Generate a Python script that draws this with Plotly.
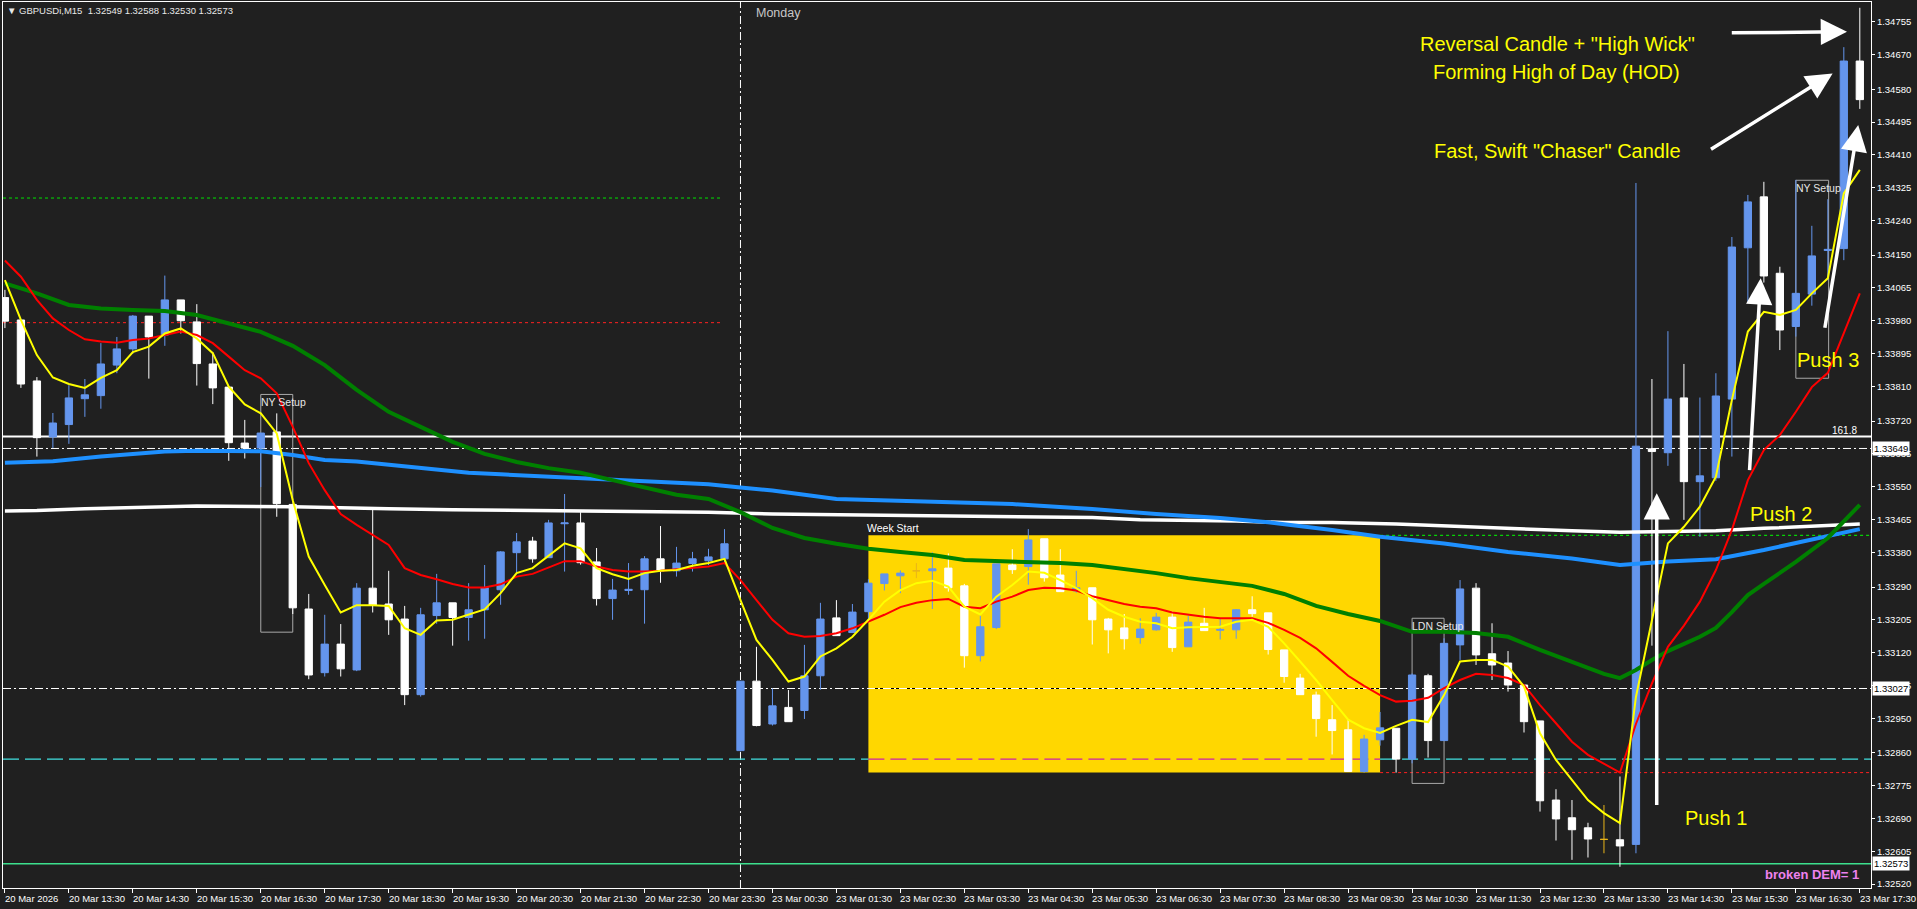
import plotly.graph_objects as go

# ---------------- data (GBPUSDi, M15) ----------------
bar_index = list(range(117))

opens = [1.34040, 1.33982, 1.33824, 1.33679, 1.33711, 1.33778, 1.33786, 1.33865, 1.33907, 1.33992,
         1.33943, 1.34034, 1.33977, 1.33868, 1.33808, 1.33663, 1.33650, 1.33692, 1.33504, 1.33233,
         1.33068, 1.33142, 1.33075, 1.33287, 1.33246, 1.33207, 1.33011, 1.33216, 1.33249, 1.33211,
         1.33231, 1.33283, 1.33379, 1.33409, 1.33366, 1.33454, 1.33456, 1.33355, 1.33260, 1.33281,
         1.33283, 1.33363, 1.33332, 1.33351, 1.33358, 1.33363, 1.32866, 1.33046, 1.32935, 1.32978,
         1.32970, 1.33060, 1.33210, 1.33172, 1.33226, 1.33299, 1.33319, 1.33332, 1.33332, 1.33339,
         1.33293, 1.33112, 1.33185, 1.33347, 1.33343, 1.33415, 1.33321, 1.33280, 1.33288, 1.33207,
         1.33184, 1.33159, 1.33179, 1.33212, 1.33135, 1.33196, 1.33178, 1.33179, 1.33231, 1.33223,
         1.33127, 1.33054, 1.33010, 1.32946, 1.32920, 1.32812, 1.32894, 1.32924, 1.32844, 1.33060,
         1.32892, 1.33140, 1.33287, 1.33117, 1.33093, 1.33036, 1.32943, 1.32738, 1.32692, 1.32666,
         1.32636, 1.32635, 1.32623, 1.33648, 1.33638, 1.33780, 1.33563, 1.33573, 1.33777, 1.34169,
         1.34301, 1.34103, 1.33965, 1.34049, 1.34162, 1.34167, 1.34653]
highs = [1.34060, 1.33982, 1.33834, 1.33741, 1.33813, 1.33829, 1.33922, 1.33938, 1.33995, 1.33992,
         1.34097, 1.34034, 1.34023, 1.33898, 1.33808, 1.33723, 1.33689, 1.33740, 1.33504, 1.33272,
         1.33218, 1.33194, 1.33300, 1.33491, 1.33332, 1.33241, 1.33236, 1.33324, 1.33249, 1.33300,
         1.33347, 1.33383, 1.33430, 1.33420, 1.33464, 1.33531, 1.33484, 1.33391, 1.33311, 1.33352,
         1.33370, 1.33448, 1.33394, 1.33381, 1.33389, 1.33440, 1.33046, 1.33135, 1.33027, 1.33023,
         1.33140, 1.33249, 1.33256, 1.33246, 1.33310, 1.33324, 1.33333, 1.33352, 1.33380, 1.33377,
         1.33298, 1.33216, 1.33350, 1.33388, 1.33440, 1.33415, 1.33388, 1.33332, 1.33288, 1.33210,
         1.33220, 1.33209, 1.33223, 1.33226, 1.33215, 1.33236, 1.33207, 1.33233, 1.33266, 1.33223,
         1.33127, 1.33065, 1.33019, 1.32984, 1.32946, 1.32907, 1.32966, 1.32924, 1.33066, 1.33065,
         1.33157, 1.33308, 1.33300, 1.33196, 1.33124, 1.33036, 1.32943, 1.32766, 1.32738, 1.32679,
         1.32725, 1.32799, 1.34337, 1.33829, 1.33953, 1.33868, 1.33781, 1.33844, 1.34197, 1.34306,
         1.34340, 1.34120, 1.34345, 1.34226, 1.34295, 1.34689, 1.34791]
lows = [1.33961, 1.33806, 1.33628, 1.33650, 1.33661, 1.33731, 1.33752, 1.33844, 1.33894, 1.33830,
        1.33915, 1.33947, 1.33812, 1.33764, 1.33617, 1.33623, 1.33549, 1.33472, 1.33220, 1.33051,
        1.33058, 1.33058, 1.33072, 1.33224, 1.33166, 1.32984, 1.33006, 1.33195, 1.33138, 1.33151,
        1.33156, 1.33244, 1.33327, 1.33353, 1.33366, 1.33330, 1.33348, 1.33242, 1.33205, 1.33270,
        1.33195, 1.33301, 1.33317, 1.33330, 1.33347, 1.33352, 1.32864, 1.32929, 1.32931, 1.32941,
        1.32948, 1.33024, 1.33164, 1.33172, 1.33205, 1.33281, 1.33274, 1.33313, 1.33233, 1.33278,
        1.33081, 1.33097, 1.33181, 1.33324, 1.33296, 1.33304, 1.33278, 1.33275, 1.33141, 1.33118,
        1.33128, 1.33143, 1.33177, 1.33122, 1.33135, 1.33177, 1.33154, 1.33156, 1.33213, 1.33115,
        1.33042, 1.33011, 1.32902, 1.32856, 1.32812, 1.32809, 1.32879, 1.32809, 1.32833, 1.32848,
        1.32892, 1.33101, 1.33088, 1.33049, 1.33019, 1.32913, 1.32708, 1.32633, 1.32583, 1.32589,
        1.32600, 1.32565, 1.32600, 1.33138, 1.33604, 1.33464, 1.33420, 1.33565, 1.33628, 1.34029,
        1.34079, 1.33904, 1.33939, 1.34019, 1.34085, 1.34137, 1.34529]
closes = [1.33979, 1.33816, 1.33677, 1.33715, 1.33780, 1.33788, 1.33868, 1.33907, 1.33992, 1.33938,
          1.34034, 1.33980, 1.33869, 1.33806, 1.33664, 1.33650, 1.33689, 1.33506, 1.33236, 1.33062,
          1.33142, 1.33078, 1.33287, 1.33243, 1.33205, 1.33011, 1.33218, 1.33249, 1.33211, 1.33231,
          1.33288, 1.33381, 1.33407, 1.33363, 1.33456, 1.33456, 1.33353, 1.33260, 1.33282, 1.33284,
          1.33363, 1.33332, 1.33352, 1.33363, 1.33368, 1.33402, 1.33046, 1.32931, 1.32982, 1.32941,
          1.33060, 1.33207, 1.33164, 1.33225, 1.33300, 1.33324, 1.33326, 1.33332, 1.33337, 1.33288,
          1.33112, 1.33187, 1.33350, 1.33335, 1.33412, 1.33314, 1.33278, 1.33288, 1.33205, 1.33179,
          1.33156, 1.33181, 1.33212, 1.33133, 1.33199, 1.33177, 1.33180, 1.33231, 1.33221, 1.33128,
          1.33058, 1.33011, 1.32949, 1.32918, 1.32812, 1.32896, 1.32925, 1.32844, 1.33062, 1.32892,
          1.33144, 1.33285, 1.33114, 1.33088, 1.33036, 1.32941, 1.32736, 1.32689, 1.32661, 1.32637,
          1.32636, 1.32619, 1.33655, 1.33641, 1.33777, 1.33563, 1.33578, 1.33785, 1.34171, 1.34288,
          1.34096, 1.33956, 1.34051, 1.34148, 1.34165, 1.34653, 1.34553]

ma_yellow = [1.34085, 1.33982, 1.33891, 1.33833, 1.33816, 1.33806, 1.33832, 1.33852, 1.33899, 1.33913,
             1.33947, 1.33960, 1.33934, 1.33896, 1.33809, 1.33763, 1.33740, 1.33688, 1.33515, 1.33369,
             1.33295, 1.33224, 1.33243, 1.33243, 1.33241, 1.33183, 1.33166, 1.33203, 1.33205, 1.33218,
             1.33232, 1.33274, 1.33326, 1.33339, 1.33371, 1.33403, 1.33390, 1.33339, 1.33323, 1.33311,
             1.33326, 1.33332, 1.33334, 1.33345, 1.33352, 1.33363, 1.33256, 1.33153, 1.33101, 1.33045,
             1.33058, 1.33110, 1.33131, 1.33161, 1.33205, 1.33252, 1.33282, 1.33300, 1.33306, 1.33291,
             1.33239, 1.33219, 1.33265, 1.33295, 1.33330, 1.33327, 1.33308, 1.33287, 1.33261, 1.33231,
             1.33213, 1.33200, 1.33196, 1.33183, 1.33186, 1.33187, 1.33187, 1.33200, 1.33205, 1.33187,
             1.33144, 1.33097, 1.33049, 1.32997, 1.32946, 1.32924, 1.32912, 1.32930, 1.32946, 1.32940,
             1.33010, 1.33097, 1.33101, 1.33101, 1.33084, 1.33032, 1.32911, 1.32842, 1.32790, 1.32738,
             1.32704, 1.32678, 1.33005, 1.33205, 1.33403, 1.33446, 1.33498, 1.33576, 1.33775, 1.33952,
             1.34003, 1.33995, 1.34008, 1.34051, 1.34090, 1.34310, 1.34371]
ma_red = [1.34136, 1.34094, 1.34034, 1.33986, 1.33956, 1.33932, 1.33926, 1.33923, 1.33930, 1.33934,
          1.33943, 1.33952, 1.33943, 1.33922, 1.33887, 1.33852, 1.33831, 1.33792, 1.33705, 1.33611,
          1.33541, 1.33479, 1.33451, 1.33425, 1.33399, 1.33339, 1.33321, 1.33310, 1.33298, 1.33289,
          1.33289, 1.33297, 1.33317, 1.33324, 1.33341, 1.33357, 1.33357, 1.33343, 1.33334, 1.33330,
          1.33330, 1.33332, 1.33336, 1.33340, 1.33343, 1.33352, 1.33308, 1.33256, 1.33205, 1.33170,
          1.33161, 1.33163, 1.33170, 1.33183, 1.33200, 1.33218, 1.33238, 1.33249, 1.33256, 1.33259,
          1.33239, 1.33235, 1.33252, 1.33265, 1.33282, 1.33288, 1.33287, 1.33281, 1.33266, 1.33256,
          1.33246, 1.33239, 1.33235, 1.33224, 1.33218, 1.33213, 1.33209, 1.33209, 1.33209, 1.33197,
          1.33179, 1.33158, 1.33131, 1.33096, 1.33060, 1.33034, 1.33010, 1.32993, 1.32995, 1.33003,
          1.33028, 1.33049, 1.33065, 1.33062, 1.33054, 1.33036, 1.32984, 1.32937, 1.32889, 1.32855,
          1.32833, 1.32809, 1.32935, 1.33040, 1.33135, 1.33190, 1.33252, 1.33334, 1.33438, 1.33567,
          1.33645, 1.33684, 1.33744, 1.33808, 1.33845, 1.33950, 1.34051]

ma_green_bars = [0, 2, 4, 6, 8, 10, 12, 14, 16, 18, 20, 22, 24, 26, 28, 30, 32, 34, 36, 38,
                 40, 42, 44, 46, 48, 50, 52, 54, 56, 58, 60, 63, 66, 68, 70, 72, 74, 76, 78, 80,
                 82, 84, 86, 88, 90, 92, 94, 96, 98, 100, 101, 102, 103, 104, 106, 107, 108, 109, 110, 112,
                 114, 116]
ma_green = [1.34077, 1.34051, 1.34021, 1.34012, 1.34008, 1.34005, 1.33995, 1.33973, 1.33951, 1.33915,
            1.33865, 1.33801, 1.33744, 1.33705, 1.33666, 1.33635, 1.33614, 1.33598, 1.33586, 1.33567,
            1.33547, 1.33529, 1.33518, 1.33484, 1.33443, 1.33417, 1.33402, 1.33389, 1.33381, 1.33373,
            1.33360, 1.33357, 1.33352, 1.33347, 1.33337, 1.33326, 1.33313, 1.33303, 1.33293, 1.33272,
            1.33241, 1.33220, 1.33202, 1.33174, 1.33174, 1.33171, 1.33161, 1.33127, 1.33096, 1.33065,
            1.33054, 1.33075, 1.33101, 1.33124, 1.33161, 1.33184, 1.33225, 1.33269, 1.33298, 1.33355,
            1.33417, 1.33503]

ma_blue_bars = [0, 3, 6, 8, 10, 12, 14, 16, 18, 20, 22, 24, 27, 29, 31, 33, 35, 37, 40, 42,
                44, 46, 48, 52, 57, 63, 68, 72, 76, 79, 83, 86, 90, 94, 98, 101, 104, 107, 110, 113,
                116]
ma_blue = [1.33612, 1.33616, 1.33628, 1.33635, 1.33641, 1.33643, 1.33643, 1.33642, 1.33632, 1.33619,
           1.33615, 1.33606, 1.33595, 1.33586, 1.33582, 1.33578, 1.33574, 1.33570, 1.33565, 1.33560,
           1.33556, 1.33548, 1.33540, 1.33518, 1.33511, 1.33505, 1.33492, 1.33479, 1.33469, 1.33458,
           1.33438, 1.33420, 1.33403, 1.33381, 1.33364, 1.33347, 1.33356, 1.33362, 1.33386, 1.33412,
           1.33440]

ma_white_bars = [0, 2, 5, 8, 10, 12, 18, 20, 24, 28, 37, 44, 48, 52, 58, 68, 71, 77, 80, 83,
                 87, 90, 94, 98, 101, 104, 107, 110, 113, 116]
ma_white = [1.33487, 1.33488, 1.33493, 1.33496, 1.33498, 1.33500, 1.33498, 1.33497, 1.33493, 1.33490,
            1.33487, 1.33484, 1.33479, 1.33477, 1.33474, 1.33470, 1.33464, 1.33461, 1.33457, 1.33457,
            1.33453, 1.33448, 1.33442, 1.33436, 1.33432, 1.33433, 1.33436, 1.33442, 1.33448, 1.33453]

time_label_bars = list(range(0, 117, 4))
time_labels = ["20 Mar 2026", "20 Mar 13:30", "20 Mar 14:30", "20 Mar 15:30", "20 Mar 16:30",
               "20 Mar 17:30", "20 Mar 18:30", "20 Mar 19:30", "20 Mar 20:30", "20 Mar 21:30",
               "20 Mar 22:30", "20 Mar 23:30", "23 Mar 00:30", "23 Mar 01:30", "23 Mar 02:30",
               "23 Mar 03:30", "23 Mar 04:30", "23 Mar 05:30", "23 Mar 06:30", "23 Mar 07:30",
               "23 Mar 08:30", "23 Mar 09:30", "23 Mar 10:30", "23 Mar 11:30", "23 Mar 12:30",
               "23 Mar 13:30", "23 Mar 14:30", "23 Mar 15:30", "23 Mar 16:30", "23 Mar 17:30"]

price_ticks = [1.32520, 1.32605, 1.32690, 1.32775, 1.32860, 1.32950, 1.33035, 1.33120, 1.33205,
               1.33290, 1.33380, 1.33465, 1.33550, 1.33635, 1.33720, 1.33810, 1.33895, 1.33980,
               1.34065, 1.34150, 1.34240, 1.34325, 1.34410, 1.34495, 1.34580, 1.34670, 1.34755]

fib_level = 1.33680
pivot_levels = [1.33649, 1.33027]
dem_level = 1.32573
cyan_level = 1.32844
prev_high_level = 1.34298
prev_low_level = 1.33975
prev_levels_end_bar = 44.8
box_start_bar, box_end_bar = 54, 86
box_low, box_high = 1.32809, 1.33424
monday_bar = 46
setup_boxes = [("NY Setup", 16, 18, 1.33173, 1.33789),
               ("LDN Setup", 88, 90, 1.32781, 1.33209),
               ("NY Setup", 112, 114.05, 1.33831, 1.34344)]

header_text = "▼ GBPUSDi,M15\u00a0\u00a01.32549 1.32588 1.32530 1.32573"

# ---------------- figure ----------------
BG = "#202020"
FONT = "Liberation Sans, Arial, sans-serif"
X_LO, X_HI = -0.12, 116.70
Y_LO, Y_HI = 1.32510, 1.34806

fig = go.Figure()

# moving averages
fig.add_trace(go.Scatter(x=ma_white_bars, y=ma_white, mode="lines",
                         line=dict(color="#ffffff", width=3.5), hoverinfo="skip"))
fig.add_trace(go.Scatter(x=ma_blue_bars, y=ma_blue, mode="lines",
                         line=dict(color="#1e90ff", width=4), hoverinfo="skip"))
fig.add_trace(go.Scatter(x=ma_green_bars, y=ma_green, mode="lines",
                         line=dict(color="#008000", width=4), hoverinfo="skip"))
fig.add_trace(go.Scatter(x=bar_index, y=ma_red, mode="lines",
                         line=dict(color="#ff0000", width=2), hoverinfo="skip"))
fig.add_trace(go.Scatter(x=bar_index, y=ma_yellow, mode="lines",
                         line=dict(color="#ffff00", width=2), hoverinfo="skip"))

# candles split by direction
groups = {"up": [], "down": [], "doji": []}
for i in bar_index:
    if closes[i] > opens[i]:
        groups["up"].append(i)
    elif closes[i] < opens[i]:
        groups["down"].append(i)
    else:
        groups["doji"].append(i)

colors = {"up": "#6495ed", "down": "#ffffff", "doji": "#e8b41a"}
for key, idx in groups.items():
    c = colors[key]
    fig.add_trace(go.Candlestick(
        x=idx,
        open=[opens[i] for i in idx], high=[highs[i] for i in idx],
        low=[lows[i] for i in idx], close=[closes[i] for i in idx],
        increasing=dict(line=dict(color=c, width=1), fillcolor=c),
        decreasing=dict(line=dict(color=c, width=1), fillcolor=c),
        whiskerwidth=0, hoverinfo="skip", showlegend=False))

# shapes
shapes = []
shapes.append(dict(type="rect", xref="x", yref="y", x0=box_start_bar, x1=box_end_bar,
                   y0=box_low, y1=box_high, fillcolor="#ffd700", line=dict(width=0), layer="below"))


def hline(y, color, dash, width=1, x0=X_LO, x1=X_HI):
    shapes.append(dict(type="line", xref="x", yref="y", x0=x0, x1=x1, y0=y, y1=y,
                       line=dict(color=color, width=width, dash=dash), layer="below"))


DASHDOT = "8px,3px,2px,3px"
hline(pivot_levels[1], "#000000", "solid", 1, box_start_bar, box_end_bar)
for lv in pivot_levels:
    hline(lv, "#ffffff", DASHDOT, 1)
hline(fib_level, "#ffffff", "solid", 2)
hline(cyan_level, "#40e0e0", "16px,6px", 1.3, X_LO, box_start_bar)
hline(cyan_level, "#cc22aa", "16px,6px", 1.3, box_start_bar, box_end_bar)
hline(cyan_level, "#40e0e0", "16px,6px", 1.3, box_end_bar, X_HI)
hline(dem_level, "#3de08e", "solid", 1.5)
hline(prev_high_level, "#00e000", "3px,3px", 1, X_LO, prev_levels_end_bar)
hline(prev_low_level, "#ff2020", "3px,3px", 1, X_LO, prev_levels_end_bar)
hline(box_high, "#00ff00", "3px,3px", 1, box_end_bar, X_HI)
hline(box_low, "#ff2020", "3px,3px", 1, box_end_bar, X_HI)

shapes.append(dict(type="line", xref="x", yref="paper", x0=monday_bar, x1=monday_bar, y0=0, y1=1,
                   line=dict(color="#ffffff", width=1, dash=DASHDOT), layer="below"))

for label, b0, b1, lo, hi in setup_boxes:
    shapes.append(dict(type="rect", xref="x", yref="y", x0=b0, x1=b1, y0=lo, y1=hi,
                       line=dict(color="#a8a8a8", width=1), fillcolor="rgba(0,0,0,0)", layer="below"))

# annotations
ann = []
for b, t in zip(time_label_bars, time_labels):
    ann.append(dict(x=b, y=0, xref="x", yref="paper", text=t, showarrow=False,
                    xanchor="left", yanchor="top", yshift=-3, xshift=-2,
                    font=dict(family=FONT, size=9.5, color="#ffffff")))

for lv in pivot_levels + [dem_level]:
    ann.append(dict(x=1, y=lv, xref="paper", yref="y", text=f"{lv:.5f}", showarrow=False,
                    xanchor="left", xshift=1, bgcolor="#ffffff", borderpad=1,
                    font=dict(family=FONT, size=9.5, color="#000000")))

ann.append(dict(x=0, y=1, xref="paper", yref="paper", text=header_text, showarrow=False,
                xanchor="left", yanchor="top", xshift=2, yshift=-1,
                font=dict(family=FONT, size=9.5, color="#e8e8e8")))
ann.append(dict(x=monday_bar, y=1, xref="x", yref="paper", text="Monday", showarrow=False,
                xanchor="left", yanchor="top", xshift=14, yshift=-2,
                font=dict(family=FONT, size=12.5, color="#c8c8c8")))
ann.append(dict(x=box_start_bar, y=box_high, xref="x", yref="y", text="Week Start", showarrow=False,
                xanchor="left", yanchor="bottom", xshift=-3, yshift=-1,
                font=dict(family=FONT, size=10.5, color="#ffffff")))
for label, b0, b1, lo, hi in setup_boxes:
    ann.append(dict(x=b0, y=hi, xref="x", yref="y", text=label, showarrow=False,
                    xanchor="left", yanchor="top", xshift=-2, yshift=0,
                    font=dict(family=FONT, size=10.5, color="#e6e6e6")))
ann.append(dict(x=1, y=fib_level, xref="paper", yref="y", text="161.8", showarrow=False,
                xanchor="right", yanchor="bottom", xshift=-12, yshift=-1,
                font=dict(family=FONT, size=10, color="#ffffff")))
ann.append(dict(x=1, y=dem_level, xref="paper", yref="y", text="<b>broken DEM= 1</b>", showarrow=False,
                xanchor="right", yanchor="top", xshift=-10, yshift=-1,
                font=dict(family=FONT, size=13, color="#ee82ee")))

big_texts = [("Reversal Candle + \"High Wick\"", 97.1, 1.34697),
             ("Forming High of Day (HOD)", 97.05, 1.34624),
             ("Fast, Swift \"Chaser\" Candle", 97.1, 1.34420),
             ("Push 3", 114.0, 1.33878),
             ("Push 2", 111.1, 1.33479),
             ("Push 1", 107.0, 1.32692)]
for t, bx, py in big_texts:
    ann.append(dict(x=bx, y=py, xref="x", yref="y", text=t, showarrow=False,
                    font=dict(family=FONT, size=20, color="#ffff00")))

arrows = [((107.9, 1.34726), (115.2, 1.34729)),
          ((106.6, 1.34422), (114.3, 1.34621)),
          ((113.8, 1.33958), (115.9, 1.34487)),
          ((109.1, 1.33589), (109.8, 1.34090)),
          ((103.3, 1.32721), (103.3, 1.33533))]
for (tx, ty), (hx, hy) in arrows:
    ann.append(dict(x=hx, y=hy, ax=tx, ay=ty, xref="x", yref="y", axref="x", ayref="y",
                    text="", showarrow=True, arrowhead=2, arrowsize=1.5, arrowwidth=3.5,
                    arrowcolor="#ffffff", standoff=0))

fig.update_layout(
    width=1917, height=909,
    margin=dict(l=3, r=46, t=2, b=21),
    paper_bgcolor=BG, plot_bgcolor=BG,
    showlegend=False, boxgap=0.35,
    shapes=shapes, annotations=ann,
    xaxis=dict(range=[X_LO, X_HI], showgrid=False, zeroline=False, showticklabels=False,
               ticks="outside", tickvals=time_label_bars, ticklen=4, tickcolor="#ffffff",
               showline=True, mirror=True, linecolor="#ffffff", linewidth=1,
               rangeslider=dict(visible=False), fixedrange=True),
    yaxis=dict(range=[Y_LO, Y_HI], side="right", showgrid=False, zeroline=False,
               tickvals=price_ticks, ticktext=[f"{v:.5f}" for v in price_ticks],
               ticks="outside", ticklen=3, tickcolor="#ffffff",
               tickfont=dict(family=FONT, size=9.5, color="#ffffff"),
               showline=True, mirror=True, linecolor="#ffffff", linewidth=1, fixedrange=True),
)

fig.write_html("out.html", config={"displayModeBar": False},
               post_script="document.body.style.margin='0';document.body.style.overflow='hidden';")
